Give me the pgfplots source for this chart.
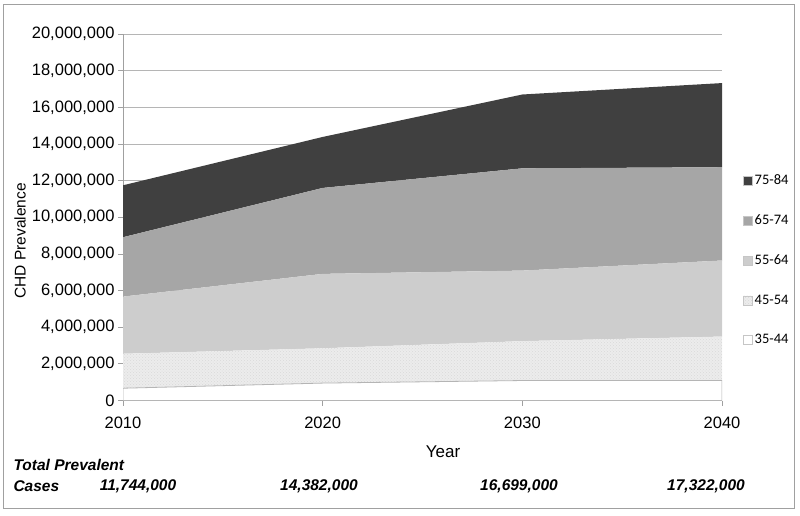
\documentclass[border=0pt]{standalone}
\usepackage{fontspec}
\setmainfont{Liberation Sans}
\newfontfamily\carlito{Carlito}
\usepackage{pgfplots}
\usepackage{pgfplotstable}
\pgfplotsset{compat=1.18}
\usetikzlibrary{patterns}
\definecolor{c75}{HTML}{404040}
\definecolor{c65}{HTML}{A6A6A6}
\definecolor{c55}{HTML}{CDCDCD}
\definecolor{c45}{HTML}{ECECEC}
\definecolor{frame}{HTML}{A0A0A0}
\definecolor{gridc}{HTML}{B5B5B5}
\pgfplotstableread{
year a35 a45 a55 a65 a75
2010 670000 1880000 3120000 3240000 2834000
2020 950000 1900000 4060000 4690000 2782000
2030 1090000 2150000 3850000 5580000 4029000
2040 1090000 2400000 4150000 5090000 4592000
}\prev
\begin{document}
\begin{tikzpicture}[x=1pt,y=1pt]
\path (0,0) rectangle (800,515);
\draw[frame, line width=1pt] (3,7) rectangle (794,510);
\begin{axis}[
  at={(123pt,114.5pt)}, anchor=south west,
  scale only axis, width=599pt, height=366.5pt,
  xmin=2010, xmax=2040, ymin=0, ymax=20000000,
  scaled y ticks=false,
  xtick={2010,2020,2030,2040},
  xticklabels={2010,2020,2030,2040},
  ytick={0,2000000,4000000,6000000,8000000,10000000,12000000,14000000,16000000,18000000,20000000},
  yticklabels={0,{2,000,000},{4,000,000},{6,000,000},{8,000,000},{10,000,000},{12,000,000},{14,000,000},{16,000,000},{18,000,000},{20,000,000}},
  axis lines*=left,
  ymajorgrids,
  major grid style={gridc, line width=0.8pt},
  axis line style={frame, line width=0.8pt},
  tick style={frame, line width=0.8pt},
  tick align=outside, major tick length=5pt,
  tick label style={font=\fontsize{16.5}{18}\selectfont},
  x tick label style={yshift=-8pt},
  stack plots=y,
  reverse legend,
  legend cell align=left,
  legend image code/.code={\path[#1, draw=gray!45, line width=0.5pt] (0pt,-4.5pt) rectangle (9pt,4.5pt);},
  legend style={at={(1.035,0.383)}, anchor=west, draw=none, fill=none,
    font=\carlito\fontsize{14.5}{16}\selectfont, row sep=24.7pt, inner sep=0pt,
    nodes={inner sep=2pt}},
]
\addplot[fill=white, draw=gridc, line width=0.8pt] table[x=year,y=a35]{\prev} \closedcycle;
\addlegendentry{35-44}
\addplot[fill=c45, draw=none, postaction={pattern=crosshatch dots, pattern color=gray!30}] table[x=year,y=a45]{\prev} \closedcycle;
\addlegendentry{45-54}
\addplot[fill=c55, draw=none] table[x=year,y=a55]{\prev} \closedcycle;
\addlegendentry{55-64}
\addplot[fill=c65, draw=none] table[x=year,y=a65]{\prev} \closedcycle;
\addlegendentry{65-74}
\addplot[fill=c75, draw=none] table[x=year,y=a75]{\prev} \closedcycle;
\addlegendentry{75-84}
\end{axis}
\node[rotate=90, font=\fontsize{15.5}{18}\selectfont] at (20,274) {CHD Prevalence};
\node[font=\fontsize{17}{20}\selectfont] at (443,63) {Year};
\begin{scope}[every node/.style={font=\bfseries\itshape\fontsize{15.5}{18}\selectfont}]
\node[anchor=west] at (10,50) {Total Prevalent};
\node[anchor=west] at (10,29) {Cases};
\node at (138,29) {11,744,000};
\node at (319,29) {14,382,000};
\node at (519,29) {16,699,000};
\node at (706,29) {17,322,000};
\end{scope}
\end{tikzpicture}
\end{document}
